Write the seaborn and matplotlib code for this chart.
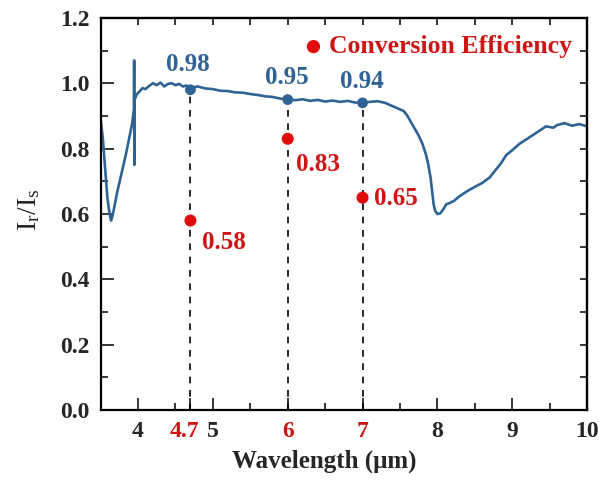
import numpy as np
import pandas as pd
import matplotlib
matplotlib.use("Agg")
import matplotlib.pyplot as plt
import matplotlib.transforms as mtransforms
import seaborn as sns
from matplotlib.ticker import FixedLocator, MultipleLocator

# Reflectance spectrum I_r/I_s versus wavelength
wavelength = [3.50, 3.53, 3.56, 3.59, 3.62, 3.64, 3.66, 3.69, 3.72, 3.76, 3.80, 3.84,
              3.88, 3.92, 3.945, 3.948, 3.951, 3.955, 3.98, 4.02, 4.06, 4.10, 4.15,
              4.20, 4.25, 4.30, 4.35, 4.40, 4.45, 4.50, 4.55, 4.60, 4.65, 4.70, 4.75,
              4.80, 4.90, 5.00, 5.10, 5.20, 5.30, 5.40, 5.50, 5.60, 5.70, 5.80, 5.90,
              6.00, 6.10, 6.20, 6.30, 6.40, 6.50, 6.60, 6.70, 6.80, 6.90, 7.00, 7.10,
              7.20, 7.30, 7.40, 7.50, 7.55, 7.60, 7.65, 7.70, 7.75, 7.80, 7.85, 7.88,
              7.91, 7.93, 7.95, 7.97, 8.00, 8.04, 8.08, 8.12, 8.16, 8.22, 8.30, 8.40,
              8.50, 8.60, 8.70, 8.78, 8.85, 8.92, 9.00, 9.10, 9.20, 9.30, 9.40, 9.45,
              9.55, 9.60, 9.70, 9.80, 9.90, 10.00]
ratio = [0.89, 0.83, 0.74, 0.65, 0.60, 0.58, 0.595, 0.63, 0.665, 0.705, 0.745, 0.785,
         0.83, 0.875, 0.92, 1.07, 0.75, 0.95, 0.965, 0.975, 0.985, 0.982, 0.992,
         1.000, 0.994, 1.002, 0.990, 0.998, 1.000, 0.994, 0.998, 0.990, 0.993, 0.985, 0.988,
         0.990, 0.984, 0.982, 0.977, 0.976, 0.972, 0.971, 0.967, 0.964, 0.960, 0.958, 0.953,
         0.950, 0.948, 0.951, 0.946, 0.949, 0.944, 0.947, 0.943, 0.946, 0.941, 0.940, 0.943,
         0.945, 0.940, 0.930, 0.920, 0.915, 0.900, 0.880, 0.860, 0.840, 0.815, 0.780, 0.750,
         0.710, 0.670, 0.630, 0.610, 0.600, 0.602, 0.615, 0.630, 0.633, 0.640, 0.655, 0.670,
         0.683, 0.695, 0.712, 0.735, 0.755, 0.780, 0.795, 0.815, 0.830, 0.845, 0.860, 0.868,
         0.864, 0.872, 0.878, 0.870, 0.875, 0.868]

# Selected wavelengths: reflectance and conversion efficiency
sel_wl = [4.7, 6.0, 7.0]
sel_ratio = [0.98, 0.95, 0.94]
efficiency = [0.58, 0.83, 0.65]

xtick_vals = [4, 4.7, 5, 6, 7, 8, 9, 10]
xtick_text = ["4", "4.7", "5", "6", "7", "8", "9", "10"]
ytick_vals = [0.0, 0.2, 0.4, 0.6, 0.8, 1.0, 1.2]

BLUE = "#2f6394"
RED = "#e00b0b"
TXT_RED = "#d01414"

sns.set_style("ticks")
plt.rcParams["font.family"] = ["Liberation Serif", "DejaVu Serif"]
plt.rcParams["font.weight"] = "bold"
plt.rcParams["mathtext.fontset"] = "custom"
plt.rcParams["mathtext.rm"] = "Liberation Serif:bold"
plt.rcParams["mathtext.it"] = "Liberation Serif:bold"
plt.rcParams["mathtext.bf"] = "Liberation Serif:bold"

fig = plt.figure(figsize=(5.99, 4.82), dpi=100)
ax = fig.add_axes([0.168, 0.149, 0.812, 0.814])

spec = pd.DataFrame({"wl": wavelength, "r": ratio})
sns.lineplot(data=spec, x="wl", y="r", ax=ax, color=BLUE, lw=1.9, sort=False,
             estimator=None)

# dashed guides from the axis up to the reflectance markers
for xv, yv in zip(sel_wl, sel_ratio):
    ax.plot([xv, xv], [0, yv], ls=(0, (4, 4)), color="black", lw=1.2, zorder=1)

sel = pd.DataFrame({"wl": sel_wl, "r": sel_ratio, "eff": efficiency})
sns.scatterplot(data=sel, x="wl", y="r", ax=ax, color=BLUE, s=60,
                edgecolor="none", zorder=4)
sns.scatterplot(data=sel, x="wl", y="eff", ax=ax, color=RED, s=75,
                edgecolor="none", zorder=4, label="Conversion Efficiency")

# value labels
blue_offsets = [(-0.03, 0.078), (-0.01, 0.068), (-0.01, 0.066)]
for (xv, yv), (dx, dy) in zip(zip(sel_wl, sel_ratio), blue_offsets):
    ax.text(xv + dx, yv + dy, f"{yv:.2f}", color=BLUE, fontsize=18,
            fontweight="bold", ha="center", va="center")
red_offsets = [(0.15, -0.068), (0.11, -0.079), (0.15, -0.003)]
for xv, ev, (dx, dy) in zip(sel_wl, efficiency, red_offsets):
    ax.text(xv + dx, ev + dy, f"{ev:.2f}", color=TXT_RED, fontsize=18,
            fontweight="bold", ha="left", va="center")

ax.set_xlim(3.5, 10)
ax.set_ylim(0, 1.2)

ax.xaxis.set_major_locator(FixedLocator(xtick_vals))
ax.set_xticklabels(xtick_text)
ax.xaxis.set_minor_locator(FixedLocator([4.5, 5.5, 6.5, 7.5, 8.5, 9.5]))
ax.set_yticks(ytick_vals)
ax.set_yticklabels([f"{v:.1f}" for v in ytick_vals])
ax.yaxis.set_minor_locator(MultipleLocator(0.1))
ax.tick_params(which="major", direction="in", length=9, width=1.3,
               labelsize=17, pad=8)
ax.tick_params(which="minor", direction="in", length=5, width=1.3)
shift_left = mtransforms.ScaledTranslation(-4 / 72, 0, fig.dpi_scale_trans)
for lab in ax.get_xticklabels():
    lab.set_fontweight("bold")
    if lab.get_text() in ("4.7", "6", "7"):
        lab.set_color(TXT_RED)
    if lab.get_text() == "4.7":
        lab.set_transform(lab.get_transform() + shift_left)
for lab in ax.get_yticklabels():
    lab.set_fontweight("bold")

# short ticks on the top and right frame
top = ax.secondary_xaxis("top")
top.set_xticks(np.arange(4.0, 10.01, 0.5))
top.tick_params(direction="in", length=5, width=1.3, labeltop=False)
right = ax.secondary_yaxis("right")
right.set_yticks(np.arange(0.1, 1.21, 0.1))
right.tick_params(direction="in", length=5, width=1.3, labelright=False)

for sp in ax.spines.values():
    sp.set_linewidth(1.6)
    sp.set_color("black")
for sa in (top, right):
    for sp in sa.spines.values():
        sp.set_linewidth(1.6)

ax.set_xlabel("Wavelength (\u03bcm)", fontsize=18, fontweight="bold", labelpad=5)
ax.xaxis.label.set_x(0.459)
ax.set_ylabel(r"$\mathregular{I_r/I_s}$", fontsize=20, labelpad=13)
ax.yaxis.label.set_y(0.51)

leg = ax.legend(loc="center right", bbox_to_anchor=(0.99, 0.926), frameon=False,
                handletextpad=0.1, borderaxespad=0.0, markerscale=1.1,
                handlelength=1.0, prop={"weight": "bold", "size": 18.5})
for t in leg.get_texts():
    t.set_color(TXT_RED)

fig.savefig("out.png", dpi=100)
